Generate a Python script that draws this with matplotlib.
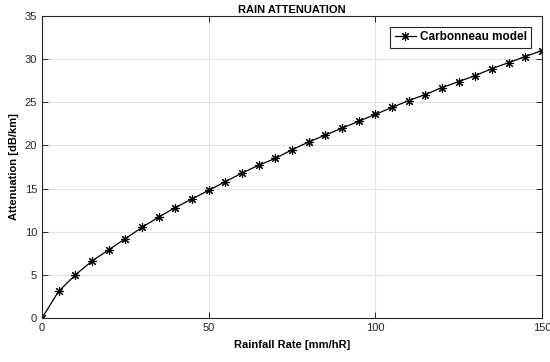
import matplotlib
matplotlib.use('Agg')
import matplotlib.pyplot as plt
import numpy as np

plt.rcParams['font.family'] = ['Liberation Sans', 'DejaVu Sans']
plt.rcParams['font.size'] = 8

# Data
rain_rate = [0, 5, 10, 15, 20, 25, 30, 35, 40, 45, 50, 55, 60, 65, 70, 75,
             80, 85, 90, 95, 100, 105, 110, 115, 120, 125, 130, 135, 140, 145, 150]
attenuation = [0, 3.1, 5.0, 6.6, 7.9, 9.2, 10.5, 11.7, 12.8, 13.8, 14.8, 15.8,
               16.8, 17.7, 18.5, 19.5, 20.4, 21.2, 22.0, 22.8, 23.6, 24.4,
               25.2, 25.9, 26.7, 27.4, 28.1, 28.9, 29.6, 30.3, 31.0]
x_ticks = [0, 50, 100, 150]
y_ticks = [0, 5, 10, 15, 20, 25, 30, 35]

fig = plt.figure(figsize=(5.5, 3.62), dpi=100)
ax = fig.add_axes([42/550, 1 - 318/362, 500/550, 302/362])

# MATLAB-like asterisk marker
ax.plot(rain_rate, attenuation, color='black', marker=(8, 2, 0), markersize=6.5,
        markeredgewidth=0.8, linewidth=0.9, label='Carbonneau model')

ax.set_xlim(0, 150)
ax.set_ylim(0, 35)
ax.set_xticks(x_ticks)
ax.set_yticks(y_ticks)

ax.grid(True, color='#e3e3e3', linewidth=0.8)
ax.set_axisbelow(True)
ax.tick_params(direction='in', top=True, right=True, length=4,
               labelsize=8, labelcolor='#262626', color='#262626', width=0.7)
for sp in ax.spines.values():
    sp.set_color('#262626')
    sp.set_linewidth(0.8)

ax.set_xlabel('Rainfall Rate [mm/hR]', fontsize=8, fontweight='bold', labelpad=5)
ax.set_ylabel('Attenuation [dB/km]', fontsize=8, fontweight='bold', labelpad=4)
ax.set_title('RAIN ATTENUATION', fontsize=8, fontweight='bold', pad=2)

leg = ax.legend(loc='upper right', fontsize=8.5, frameon=True, fancybox=False,
                borderaxespad=0.9, handlelength=1.8, handletextpad=0.3,
                borderpad=0.4)
for t in leg.get_texts():
    t.set_fontweight('bold')
leg.get_frame().set_edgecolor('#262626')
leg.get_frame().set_linewidth(0.8)
leg.get_frame().set_alpha(1)

fig.savefig('out.png', dpi=100, facecolor='white')
